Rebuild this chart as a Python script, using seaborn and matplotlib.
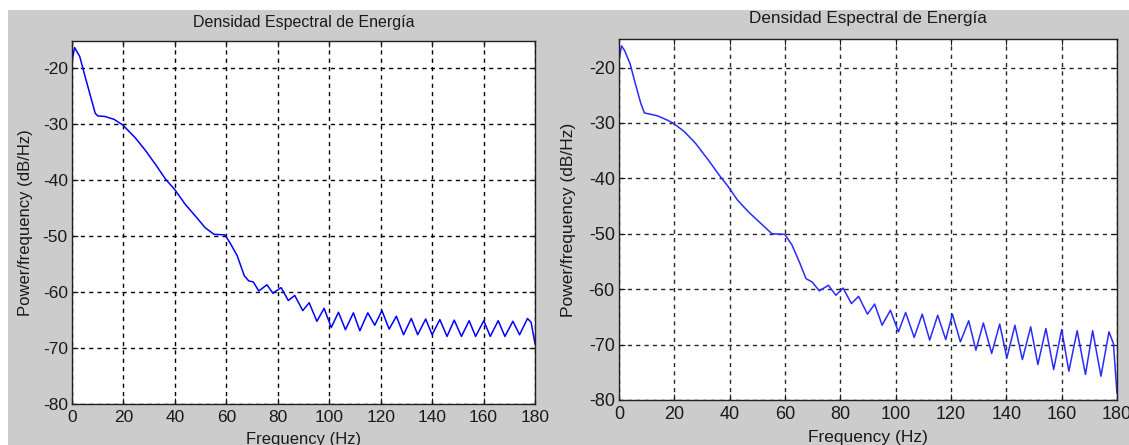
import numpy as np
import pandas as pd
import matplotlib
matplotlib.use("Agg")
import matplotlib.pyplot as plt
import seaborn as sns
from matplotlib.patches import Rectangle

# ---------------- data ----------------
freq_left = [0, 1, 3, 5.1, 7.2, 9, 10, 12.8, 16.3, 19.7, 24.6, 28.8, 33, 36.4, 39.9, 44.1,
             49, 51.7, 55.2, 59.4, 61.4, 64.2, 67, 68.7, 70.5, 72.6, 75.8, 78.1, 81.3, 84.1,
             86.6, 89.7, 92.2, 95.2, 98, 100.8, 103.6, 106.3, 109.4, 111.9, 115, 117.7,
             120.5, 123.3, 126.1, 128.9, 131.9, 134.4, 137.5, 140, 143, 145.8, 148.6, 151.4,
             154.4, 156.9, 160.1, 162.6, 165.7, 168.3, 171.4, 174, 177.1, 178.5, 180]
psd_left = [-18.9, -16.4, -18, -21.6, -25.1, -28.1, -28.6, -28.7, -29.2, -30.2, -32.5, -34.9,
            -37.6, -39.9, -41.7, -44.4, -47, -48.5, -49.7, -49.8, -51.2, -53.5, -57.1, -58,
            -58.2, -59.8, -58.7, -60.2, -59.2, -61.5, -60.6, -63.3, -61.9, -65.2, -62.9,
            -66.3, -63.6, -66.7, -63.7, -66.9, -63.7, -65.9, -63.3, -66.6, -64.3, -67.6,
            -64.7, -67.6, -64.8, -67.6, -64.9, -67.9, -65, -67.9, -65.1, -67.9, -65.1, -67.9,
            -65.1, -67.9, -65.2, -67.6, -64.7, -65.4, -69.2]

freq_right = [0, 0.9, 2, 4, 5.9, 7.9, 9.2, 11.2, 13.8, 17.1, 19.8, 23.7, 27.7, 32.3, 36.2,
              39.5, 42.8, 46.7, 51.4, 55.3, 59.9, 62.5, 65.2, 67.6, 69.8, 72.4, 75.7, 78.4,
              81, 84, 86.6, 89.8, 92.4, 95.1, 98.1, 101, 103.6, 106.7, 109.6, 112.3, 115.2,
              118.1, 120.5, 123.4, 126.4, 129, 131.7, 134.7, 137.6, 140.2, 143.1, 145.8,
              148.8, 151.4, 154.3, 157.1, 160, 162.6, 165.6, 168.6, 171.2, 174.2, 177.1,
              178.7, 180]
psd_right = [-18.7, -16.1, -16.9, -19.3, -22.9, -26.5, -28.2, -28.4, -28.7, -29.4, -30.1,
             -31.6, -33.7, -36.7, -39.4, -41.5, -43.9, -46, -48.2, -50, -50.1, -52, -55.1,
             -58.1, -58.7, -60.3, -59.3, -61.1, -59.8, -62.6, -61.3, -64.5, -62.7, -66.5,
             -63.8, -67.7, -64.2, -68.7, -64.5, -69.2, -64.7, -69.1, -64.5, -69.5, -65.7,
             -71, -66.1, -71.6, -66.3, -72.4, -66.5, -72.7, -66.8, -73.6, -67.1, -74.5,
             -67.3, -74.8, -67.5, -75.4, -67.5, -75.7, -67.7, -69.8, -78.8]

x_ticks = [0, 20, 40, 60, 80, 100, 120, 140, 160, 180]
y_ticks = [-80, -70, -60, -50, -40, -30, -20]
title_text = "Densidad Espectral de Energía"
xlabel_text = "Frequency (Hz)"
ylabel_text = "Power/frequency (dB/Hz)"

# ---------------- figure ----------------
W, H = 1129, 445
fig = plt.figure(figsize=(W / 100, H / 100), dpi=100)
fig.patch.set_facecolor("white")
fig.patches.append(Rectangle((8 / W, 0), 1 - 8 / W, (H - 10) / H,
                             transform=fig.transFigure, facecolor="#cccccc",
                             edgecolor="none", zorder=-10))

plt.rcParams["font.family"] = ["Liberation Sans", "DejaVu Sans"]
txt_color = "#1a1a1a"


def px_axes(x0, y0, x1, y1):
    return [x0 / W, (H - y1) / H, (x1 - x0) / W, (y1 - y0) / H]


panels = [
    dict(rect=px_axes(72, 41.3, 535, 404.3), x=freq_left, y=psd_left, ytop=-15.3,
         title_y=22, ylab_x=26, xlab_y=432, tick_fs=12.5, title_fs=11.5, lab_fs=12,
         grid_color="black", line_color="#0000ff"),
    dict(rect=px_axes(619, 39.3, 1117, 400), x=freq_right, y=psd_right, ytop=-14.9,
         title_y=18, ylab_x=568, xlab_y=430, tick_fs=13, title_fs=12.3, lab_fs=12.5,
         grid_color="#262626", line_color="#2a2aff"),
]

for p in panels:
    ax = fig.add_axes(p["rect"])
    df = pd.DataFrame({"f": p["x"], "p": p["y"]})
    sns.lineplot(data=df, x="f", y="p", ax=ax, color=p["line_color"], linewidth=1.1,
                 zorder=3)
    ax.set_facecolor("white")
    ax.set_xlim(0, 180)
    ax.set_ylim(-80, p["ytop"])
    ax.set_xticks(x_ticks)
    ax.set_yticks(y_ticks)
    ax.set_xticklabels([str(t) for t in x_ticks])
    ax.set_yticklabels([str(t) for t in y_ticks])
    ax.tick_params(direction="in", length=4, width=0.8, top=True, right=True,
                   labelsize=p["tick_fs"], colors=txt_color, pad=3)
    ax.tick_params(axis="x", pad=4)
    ax.grid(True, color=p["grid_color"], linestyle=(0, (3, 3)), linewidth=1.0)
    ax.set_axisbelow(True)
    for s in ax.spines.values():
        s.set_color("#202020")
        s.set_linewidth(1.0)
        s.set_zorder(5)
    ax.set_xlabel("")
    ax.set_ylabel("")
    x0, yb, w, h = p["rect"]
    cx = x0 + w / 2
    fig.text(cx, (H - p["title_y"]) / H, title_text, ha="center", va="center",
             fontsize=p["title_fs"], color=txt_color)
    fig.text(p["ylab_x"] / W, yb + h / 2, ylabel_text, rotation=90, ha="center",
             va="center", fontsize=p["lab_fs"], color=txt_color)
    fig.text(cx, (H - p["xlab_y"]) / H, xlabel_text, ha="center", va="top",
             fontsize=p["lab_fs"], color=txt_color)

fig.savefig("out.png", dpi=100, facecolor=fig.get_facecolor())
